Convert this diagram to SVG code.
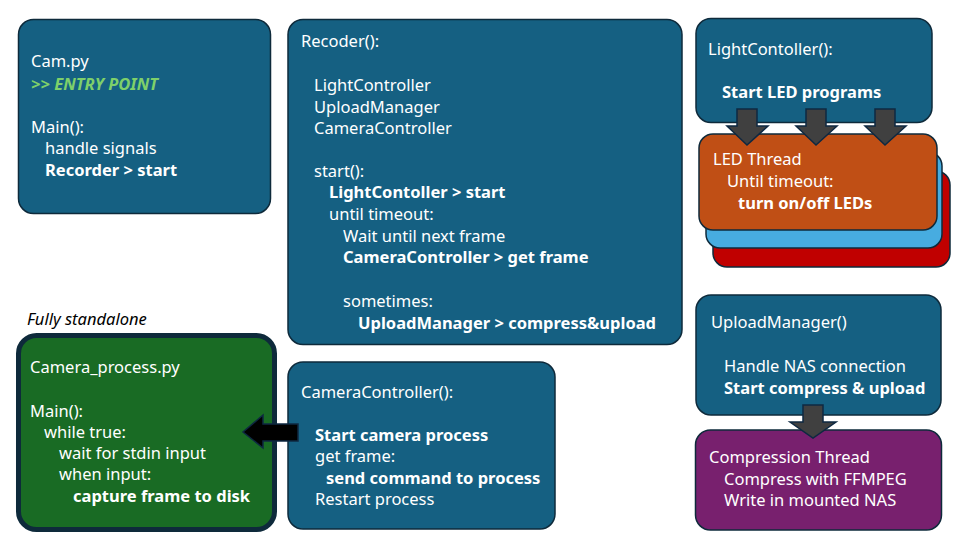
<svg xmlns="http://www.w3.org/2000/svg" width="960" height="540" viewBox="0 0 960 540">
<style>
.box{fill:#156082;stroke:#0E2A3B;stroke-width:1.5}
.t{font-family:"Noto Sans","Liberation Sans",sans-serif;font-size:16.5px;fill:#FFFFFF}
.b{font-weight:bold}
.arr{fill:#404040;stroke:#0E2841;stroke-width:1.5}
</style>
<rect width="960" height="540" fill="#FFFFFF"/>
<g id="cam">
<rect class="box" x="18.5" y="19.5" width="252" height="194" rx="15"/>
<text class="t" x="31" y="67">Cam.py</text>
<text class="t b" x="31" y="90" style="fill:#7ED06A;font-style:italic">&gt;&gt; ENTRY POINT</text>
<text class="t" x="31" y="133">Main():</text>
<text class="t" x="45" y="154">handle signals</text>
<text class="t b" x="45" y="176">Recorder &gt; start</text>
</g>
<g id="recorder">
<rect class="box" x="288" y="19.5" width="394" height="325" rx="15"/>
<text class="t" x="301" y="47">Recoder():</text>
<text class="t" x="314" y="91">LightController</text>
<text class="t" x="314" y="113">UploadManager</text>
<text class="t" x="314" y="134">CameraController</text>
<text class="t" x="314" y="177">start():</text>
<text class="t b" x="329" y="198">LightContoller &gt; start</text>
<text class="t" x="329" y="220">until timeout:</text>
<text class="t" x="343" y="242">Wait until next frame</text>
<text class="t b" x="343" y="263">CameraController &gt; get frame</text>
<text class="t" x="343" y="307">sometimes:</text>
<text class="t b" x="358" y="329">UploadManager &gt; compress&amp;upload</text>
</g>
<g id="led-thread">
<rect x="713" y="171" width="237" height="96" rx="14" fill="#C00000" stroke="#0E2A3B" stroke-width="1.5"/>
<rect x="706" y="152" width="236" height="96" rx="14" fill="#47ACE0" stroke="#0E2A3B" stroke-width="1.5"/>
<rect x="699" y="134" width="238" height="96" rx="14" fill="#C04F15" stroke="#0E2A3B" stroke-width="1.5"/>
<text class="t" x="713" y="165">LED Thread</text>
<text class="t" x="727" y="187">Until timeout:</text>
<text class="t b" x="738" y="209">turn on/off LEDs</text>
</g>
<g id="light">
<rect class="box" x="696" y="18.5" width="236" height="104" rx="15"/>
<text class="t" x="708" y="55">LightContoller():</text>
<text class="t b" x="722" y="98">Start LED programs</text>
</g>
<g id="upload">
<rect class="box" x="696" y="295" width="245" height="120" rx="15"/>
<text class="t" x="711" y="328">UploadManager()</text>
<text class="t" x="724" y="372">Handle NAS connection</text>
<text class="t b" x="724" y="394">Start compress &amp; upload</text>
</g>
<g id="compression">
<rect x="695.5" y="430" width="246" height="100" rx="15" fill="#78206E" stroke="#0E2A3B" stroke-width="1.5"/>
<text class="t" x="709" y="463">Compression Thread</text>
<text class="t" x="724" y="485">Compress with FFMPEG</text>
<text class="t" x="724" y="506">Write in mounted NAS</text>
</g>
<g id="camctrl">
<rect class="box" x="288" y="362" width="267" height="167" rx="15"/>
<text class="t" x="301" y="398">CameraController():</text>
<text class="t b" x="315" y="441">Start camera process</text>
<text class="t" x="315" y="462">get frame:</text>
<text class="t b" x="326" y="484">send command to process</text>
<text class="t" x="315" y="505">Restart process</text>
</g>
<g id="camproc">
<text x="27" y="325" font-family="Noto Sans, Liberation Sans, sans-serif" font-size="16.5" font-style="italic" fill="#000000">Fully standalone</text>
<rect x="18.5" y="335.5" width="256" height="194" rx="18" fill="#196B24" stroke="#0E2A3B" stroke-width="5"/>
<text class="t" x="30" y="373">Camera_process.py</text>
<text class="t" x="30" y="417">Main():</text>
<text class="t" x="44" y="438">while true:</text>
<text class="t" x="59" y="459">wait for stdin input</text>
<text class="t" x="59" y="480">when input:</text>
<text class="t b" x="73" y="502">capture frame to disk</text>
</g>
<g id="connectors">
<path class="arr" d="M737,109 H757 V126 H768 L747,145 L727,126 H737 Z"/>
<path class="arr" d="M806,109 H826 V126 H837 L816,145 L796,126 H806 Z"/>
<path class="arr" d="M875,109 H895 V126 H906 L885,145 L865,126 H875 Z"/>
<path class="arr" d="M803,405 H823 V422 H836 L813,438 L790,422 H803 Z"/>
<path d="M298,424 V441 H263 V448 L243,432 L263,415 V424 Z" fill="#000000" stroke="#0E2841" stroke-width="1.5"/>
</g>
</svg>
